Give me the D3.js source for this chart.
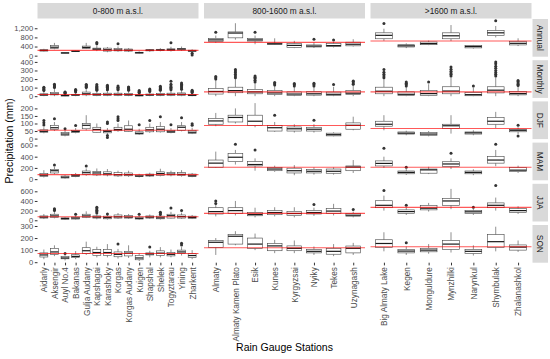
<!DOCTYPE html>
<html>
<head>
<meta charset="utf-8">
<script src="https://cdn.jsdelivr.net/npm/d3@7"></script>
<style>
  body { margin: 0; background: #fff; }
  svg { display: block; font-family: "Liberation Sans", Arial, sans-serif; }
</style>
</head>
<body>
<div id="chart"></div>
<script>
// ---- facets ----
const regions = ["0-800 m a.s.l.", "800-1600 m a.s.l.", ">1600 m a.s.l."];
const seasons = ["Annual", "Monthly", "DJF", "MAM", "JJA", "SON"];

const stationsLow = ["Aidarly", "Aksengir", "Auyl No.4", "Bakanas", "Gulja Audany", "Kapshagai", "Karashoky",
  "Korgas", "Korgas Audany", "Kuigen", "Shapshal", "Shelek", "Togyztarau", "Yining", "Zharkent"];
const stationsMid = ["Almaty", "Almaty Kamen Plato", "Esik", "Kunes", "Kyrgyzsai", "Nyiky", "Tekes", "Uzynagash"];
const stationsHigh = ["Big Almaty Lake", "Kegen", "Monguldure", "Mynzhilki", "Narynkul", "Shymbulak", "Zhalanashkol"];

// ---- tick labels per row ----
const annualTicks = [0, 400, 800, 1200];
const monthlyTicks = [0, 100, 200, 300, 400];
const djfTicks = [0, 50, 100, 150, 200];
const mamTicks = [0, 200, 400, 600];
const jjaTicks = [0, 200, 400, 600];
const sonTicks = [0, 100, 200, 300];

// ---- box stats [lower whisker, q1, median, q3, upper whisker], stations in order low, mid, high ----
const annualBoxes = [
  [180,200,230,260,300],[280,320,370,440,560],[100,110,120,130,140],[160,175,190,205,220],[290,320,360,420,560],
  [200,260,290,330,450],[150,200,260,330,380],[170,210,250,310,400],[160,200,240,290,330],[90,110,130,150,190],
  [170,210,240,260,290],[190,220,250,280,330],[180,220,260,300,390],[210,250,290,320,400],[150,180,210,240,280],
  [560,620,690,760,880],[700,780,990,1040,1420],[500,640,690,760,880],[480,495,520,550,760],
  [330,360,450,530,650],[340,380,420,470,580],[360,400,440,530,600],[400,430,500,590,720],
  [650,740,890,1000,1180],[330,380,430,480,540],[460,480,530,600,660],[640,740,870,1000,1340],
  [310,340,400,450,470],[800,880,1000,1100,1300],[420,470,540,630,760]
];
const annualOutliers = [
  [],[],[],[],[],[520,580],[],[520],[],[],[],[],[570],[],[110,30],
  [1020],[],[1020],[],[],[720],[690],[],
  [1410],[],[],[],[],[1530],[]
];

const monthlyBoxes = [
  [0,8,15,28,55],[0,15,25,45,90],[0,3,7,12,25],[0,8,14,22,42],[0,15,28,48,95],
  [0,8,18,32,65],[0,10,20,35,70],[0,10,20,35,70],[0,10,18,32,65],[0,3,8,15,32],
  [0,8,15,25,50],[0,10,18,32,65],[0,10,20,35,70],[0,10,22,38,75],[0,5,10,18,38],
  [0,25,55,90,190],[0,40,65,105,200],[0,28,50,80,150],[0,20,38,65,120],
  [0,10,25,50,110],[0,12,28,52,110],[0,10,22,48,110],[0,18,35,65,130],
  [0,28,58,105,200],[0,8,22,50,110],[0,8,30,65,140],[0,28,60,110,220],
  [0,5,18,45,100],[0,38,70,110,220],[0,15,30,55,115]
];
const monthlyOutliers = [
  [65,75,85,95,105],[100,110,120,130,140],[30,38,45,50],[50,60,70,78],[100,110,120,130,137],
  [70,80,90,100,110,120,135],[75,85,95,105,115,128],[75,85,95,105,120],[70,80,90,100,106],[38,45,55,65],
  [55,65,75,85],[70,80,90,100,115],[75,90,105,120,140,175],[80,95,110,125,140,155],[42,50,58,68],
  [200,215,230],[215,235,255,275,295,312],[165,185,205,220,235],[130,145,160],
  [120,135,148],[120,135,150],[137],[140,155,170,176],
  [215,235,255,280,312],[120,135,150,165],[165],[235,255,270,290,315,340],
  [118],[235,255,275,300,325,350,380,400],[125,140,155,170,184]
];

const djfBoxes = [
  [35,42,48,58,75],[50,60,72,88,110],[15,22,30,40,55],[35,40,47,55,70],[55,65,88,100,155],
  [40,42,60,75,100],[30,38,48,55,70],[45,52,60,75,100],[45,48,62,85,120],[25,30,35,45,65],
  [38,45,58,75,100],[40,45,62,80,110],[35,40,45,55,70],[48,55,75,85,110],[30,35,42,55,72],
  [82,95,117,133,170],[100,110,140,155,200],[75,88,115,155,235],[45,50,72,88,110],
  [40,50,65,77,95],[40,50,62,75,95],[15,18,26,36,42],[55,62,88,104,145],
  [55,82,95,115,155],[22,30,36,44,52],[15,22,30,40,50],[33,67,85,95,155],
  [22,30,38,44,55],[70,95,115,140,177],[30,45,55,62,75]
];
const djfOutliers = [
  [90,105,120],[132],[65],[87],[],[],[100,110,20,8],[120,132,145],[],[92],[120],[145],[92],[138],[88,98],
  [],[],[],[155],[],[122],[],[],
  [],[],[],[],[],[],[88,17]
];

const mamBoxes = [
  [30,50,70,100,160],[90,110,150,175,220],[10,20,35,55,70],[35,45,60,85,110],[60,80,115,145,190],
  [55,75,110,135,190],[50,75,95,130,180],[40,58,80,115,150],[40,60,80,110,150],[30,45,55,72,95],
  [40,55,70,90,115],[50,65,100,130,185],[50,75,90,115,150],[45,65,85,115,160],[35,45,60,90,110],
  [200,212,285,340,490],[260,312,390,460,520],[150,235,260,312,370],[130,150,180,210,240],
  [70,110,150,195,250],[80,110,140,175,210],[80,105,140,180,210],[110,150,215,235,340],
  [200,235,280,325,400],[75,95,120,145,180],[90,106,165,180,220],[180,225,270,310,370],
  [70,95,120,145,175],[230,285,340,400,520],[110,135,160,205,240]
];
const mamOutliers = [
  [],[250],[],[],[235],[],[],[],[],[],[],[],[],[],[],
  [],[620],[519],[],[],[],[],[],
  [549],[212],[],[460],[],[620],[]
];

const jjaBoxes = [
  [25,45,65,90,130],[40,60,90,125,180],[10,22,35,50,65],[15,25,45,65,100],[45,60,90,125,185],
  [20,45,65,90,120],[15,30,55,85,115],[30,45,70,110,150],[30,45,65,95,130],[10,25,40,65,100],
  [30,45,65,90,120],[15,30,50,85,105],[35,45,95,125,175],[30,45,75,110,160],[25,40,60,85,110],
  [80,130,180,260,330],[100,143,200,260,400],[60,93,120,165,260],[80,115,160,200,270],
  [60,95,140,185,270],[90,130,160,200,260],[100,143,190,240,340],[60,85,105,140,180],
  [200,260,310,405,510],[110,145,180,215,270],[180,215,250,310,360],[230,310,400,455,650],
  [110,143,175,200,240],[200,260,310,360,470],[130,165,200,240,290]
];
const jjaOutliers = [
  [],[200,220,240],[],[125],[],[150,180,210,240,270],[130],[],[],[125],[],[120,150,165],[255],[200],[],
  [345,400],[],[],[],[],[325],[],[224],
  [615],[310],[],[],[270],[720],[]
];

const sonBoxes = [
  [25,43,60,77,105],[50,65,85,115,140],[15,28,35,48,60],[25,38,48,62,92],[60,72,95,120,170],
  [40,57,80,105,128],[40,57,80,105,150],[30,45,65,85,110],[35,52,75,90,140],[10,20,35,57,75],
  [40,60,68,77,95],[40,57,75,94,125],[40,52,65,80,105],[55,72,85,100,125],[25,38,55,70,100],
  [60,123,165,180,200],[140,150,215,230,257],[100,115,150,200,237],[75,95,135,155,185],
  [75,95,115,135,180],[60,77,90,105,130],[50,66,90,115,150],[60,77,115,134,160],
  [90,123,155,186,248],[60,77,92,106,130],[70,86,100,115,150],[80,106,150,180,248],
  [55,72,90,106,140],[90,123,170,228,294],[85,100,125,143,180]
];
const sonOutliers = [
  [],[],[72],[],[],[],[],[150],[],[],[125],[],[],[143,157],[],
  [],[],[],[],[],[],[],[],
  [],[162],[],[],[],[],[]
];

// red reference line per panel (low, mid, high)
const annualRef = [230, 584, 644];
const monthlyRef = [20, 50, 50];
const djfRef = [55, 87, 67];
const mamRef = [81, 212, 212];
const jjaRef = [72, 143, 267];
const sonRef = [72, 120, 128];

// ---- layout ----
const width = 550, height = 359;
const colLeft = [37.5, 204, 370.5], colWidth = 161;
const rowTop0 = 19, rowPitch = 41.2, rowHeight = 37.7;
const stripX = 532.5, stripW = 15.5;

const rows = [
  { boxes: annualBoxes, outliers: annualOutliers, ref: annualRef, ticks: annualTicks },
  { boxes: monthlyBoxes, outliers: monthlyOutliers, ref: monthlyRef, ticks: monthlyTicks },
  { boxes: djfBoxes, outliers: djfOutliers, ref: djfRef, ticks: djfTicks },
  { boxes: mamBoxes, outliers: mamOutliers, ref: mamRef, ticks: mamTicks },
  { boxes: jjaBoxes, outliers: jjaOutliers, ref: jjaRef, ticks: jjaTicks },
  { boxes: sonBoxes, outliers: sonOutliers, ref: sonRef, ticks: sonTicks }
];

const stationGroups = [stationsLow, stationsMid, stationsHigh];
const offsets = [0, stationsLow.length, stationsLow.length + stationsMid.length];

const svg = d3.select("#chart").append("svg")
  .attr("width", width)
  .attr("height", height);

// discrete x scales, ggplot-like 0.6 unit expansion
const xScales = stationGroups.map((st, c) => d3.scalePoint()
  .domain(st)
  .range([colLeft[c], colLeft[c] + colWidth])
  .padding(0.6));

// top strips
regions.forEach((name, c) => {
  svg.append("rect")
    .attr("x", colLeft[c]).attr("y", 3)
    .attr("width", colWidth).attr("height", 15.5)
    .attr("fill", "#d9d9d9");
  svg.append("text")
    .attr("x", colLeft[c] + colWidth / 2).attr("y", 11)
    .attr("dy", "0.35em")
    .attr("text-anchor", "middle")
    .attr("font-size", 8.3)
    .attr("fill", "#1a1a1a")
    .text(name);
});

rows.forEach((row, r) => {
  const top = rowTop0 + r * rowPitch;
  const bottom = top + rowHeight;

  // free y scale per row, 5% expansion like ggplot
  const all = row.boxes.flatMap(b => [b[0], b[4]]).concat(row.outliers.flat());
  const lo = d3.min(all), hi = d3.max(all);
  const pad = (hi - lo) * 0.05;
  const y = d3.scaleLinear().domain([lo - pad, hi + pad]).range([bottom, top]);

  stationGroups.forEach((st, c) => {
    const x = xScales[c];
    const bw = x.step() * 0.75;
    const data = st.map((name, i) => ({
      name,
      s: row.boxes[offsets[c] + i],
      out: row.outliers[offsets[c] + i]
    }));

    const g = svg.append("g");

    const box = g.selectAll("g.box")
      .data(data)
      .join("g")
        .attr("class", "box");

    // whiskers
    box.append("line")
      .attr("x1", d => x(d.name)).attr("x2", d => x(d.name))
      .attr("y1", d => y(d.s[0])).attr("y2", d => y(d.s[1]))
      .attr("stroke", "#444").attr("stroke-width", 0.6);
    box.append("line")
      .attr("x1", d => x(d.name)).attr("x2", d => x(d.name))
      .attr("y1", d => y(d.s[3])).attr("y2", d => y(d.s[4]))
      .attr("stroke", "#444").attr("stroke-width", 0.6);

    // box
    box.append("rect")
      .attr("x", d => x(d.name) - bw / 2)
      .attr("y", d => y(d.s[3]))
      .attr("width", bw)
      .attr("height", d => Math.max(0.5, y(d.s[1]) - y(d.s[3])))
      .attr("fill", "white")
      .attr("stroke", "#444")
      .attr("stroke-width", 0.6);

    // median
    box.append("line")
      .attr("x1", d => x(d.name) - bw / 2).attr("x2", d => x(d.name) + bw / 2)
      .attr("y1", d => y(d.s[2])).attr("y2", d => y(d.s[2]))
      .attr("stroke", "#1a1a1a").attr("stroke-width", 1.2);

    // outliers
    box.selectAll("circle")
      .data(d => d.out.map(v => ({ name: d.name, v })))
      .join("circle")
        .attr("cx", d => x(d.name))
        .attr("cy", d => y(d.v))
        .attr("r", 1.5)
        .attr("fill", "#333");

    // reference line
    g.append("line")
      .attr("x1", colLeft[c]).attr("x2", colLeft[c] + colWidth)
      .attr("y1", y(row.ref[c])).attr("y2", y(row.ref[c]))
      .attr("stroke", "red")
      .attr("stroke-opacity", 0.65)
      .attr("stroke-width", 1.1);

    // bottom axis
    if (r === rows.length - 1) {
      const ax = svg.append("g")
        .attr("transform", `translate(0,${bottom})`)
        .call(d3.axisBottom(x).tickSize(2.7).tickSizeOuter(0));
      ax.select(".domain").remove();
      ax.selectAll(".tick line").attr("stroke", "#333");
      ax.selectAll(".tick text")
        .attr("transform", "rotate(-90)")
        .attr("text-anchor", "end")
        .attr("x", -4.5)
        .attr("y", 0)
        .attr("dy", "0.35em")
        .attr("font-size", 8.2)
        .attr("font-family", "Liberation Sans, Arial, sans-serif")
        .attr("fill", "#4d4d4d");
    }
  });

  // left axis
  const ay = svg.append("g")
    .attr("transform", `translate(${colLeft[0]},0)`)
    .call(d3.axisLeft(y).tickValues(row.ticks).tickSize(2.7).tickPadding(1.6));
  ay.select(".domain").remove();
  ay.selectAll(".tick line").attr("stroke", "#333");
  ay.selectAll(".tick text")
    .attr("font-size", 7.6)
    .attr("font-family", "Liberation Sans, Arial, sans-serif")
    .attr("fill", "#4d4d4d");

  // right strip
  svg.append("rect")
    .attr("x", stripX).attr("y", top)
    .attr("width", stripW).attr("height", rowHeight)
    .attr("fill", "#d9d9d9");
  svg.append("text")
    .attr("transform", `translate(${stripX + stripW / 2},${top + rowHeight / 2}) rotate(90)`)
    .attr("dy", "0.35em")
    .attr("text-anchor", "middle")
    .attr("font-size", 8.3)
    .attr("fill", "#1a1a1a")
    .text(seasons[r]);
});

// axis titles
svg.append("text")
  .attr("transform", `translate(12.5,${rowTop0 + (5 * rowPitch + rowHeight) / 2}) rotate(-90)`)
  .attr("text-anchor", "middle")
  .attr("font-size", 10.5)
  .attr("fill", "#000")
  .text("Precipitation (mm)");

svg.append("text")
  .attr("x", (colLeft[0] + colLeft[2] + colWidth) / 2)
  .attr("y", 351)
  .attr("text-anchor", "middle")
  .attr("font-size", 10.5)
  .attr("fill", "#000")
  .text("Rain Gauge Stations");
</script>
</body>
</html>
